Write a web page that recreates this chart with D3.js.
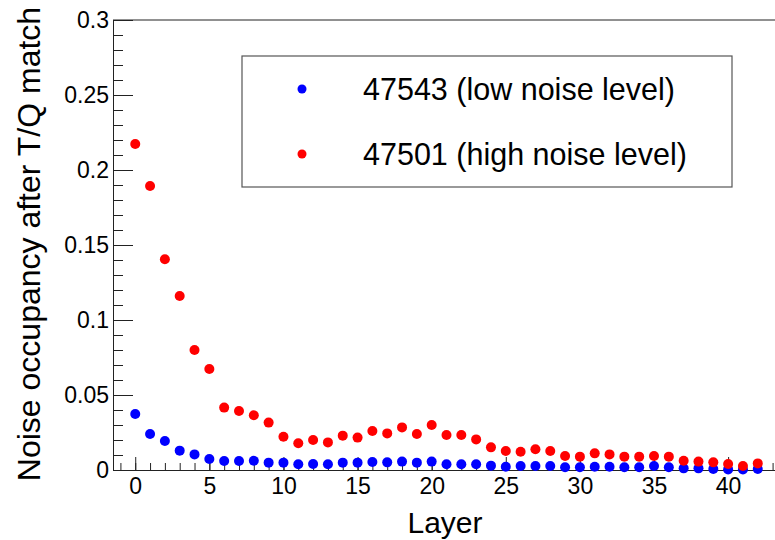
<!DOCTYPE html>
<html>
<head>
<meta charset="utf-8">
<script src="https://cdn.jsdelivr.net/npm/d3@7"></script>
<style>
    body { margin: 0; background: #fff; }
    svg { font-family: "Liberation Sans", Arial, Helvetica, sans-serif; }
    .axis path, .axis line { stroke: #222; }
</style>
</head>
<body>
<div id="chart"></div>
<script>
// layer index 0..42
const layers = d3.range(0, 43);

// run 47543 (low noise level)
const lowNoise = [0.0373, 0.024, 0.0193, 0.0129, 0.0104, 0.0073, 0.006, 0.006, 0.0062, 0.0049,
    0.0049, 0.0038, 0.004, 0.0038, 0.0049, 0.0049, 0.0053, 0.0051, 0.0056, 0.0049,
    0.0056, 0.0038, 0.0038, 0.0038, 0.0029, 0.0022, 0.0027, 0.0027, 0.0027, 0.0018,
    0.0018, 0.0022, 0.0022, 0.0018, 0.0018, 0.0027, 0.0018, 0.0011, 0.0011, 0.0007,
    0.0004, 0.0003, 0.0007];

// run 47501 (high noise level)
const highNoise = [0.2173, 0.1893, 0.1405, 0.116, 0.080, 0.0673, 0.0416, 0.0393, 0.0365, 0.0316,
    0.0222, 0.0178, 0.020, 0.0184, 0.0229, 0.0216, 0.026, 0.0244, 0.0284, 0.024,
    0.030, 0.0233, 0.0233, 0.0204, 0.0151, 0.0127, 0.0122, 0.0138, 0.0127, 0.0093,
    0.0089, 0.0111, 0.0104, 0.0089, 0.0089, 0.0093, 0.0089, 0.0062, 0.0056, 0.0051,
    0.004, 0.0027, 0.0044];

const xMajorTicks = [0, 5, 10, 15, 20, 25, 30, 35, 40];
const yMajorTicks = [0, 0.05, 0.1, 0.15, 0.2, 0.25, 0.3];

const series = [
    {name: "47543 (low noise level)", color: "#0000ff", values: lowNoise},
    {name: "47501 (high noise level)", color: "#ff0000", values: highNoise}
];

const width = 775, height = 540;
const margin = {top: 20, left: 113, bottom: 70};

const svg = d3.select("#chart").append("svg")
    .attr("width", width)
    .attr("height", height);

const x = d3.scaleLinear()
    .domain([-1.5, 43.5])
    .range([margin.left, 780]);

const y = d3.scaleLinear()
    .domain([0, 0.3])
    .range([height - margin.bottom, margin.top]);

// frame lines (top edge, right edge falls outside the picture)
svg.append("line")
    .attr("x1", margin.left).attr("x2", width)
    .attr("y1", y(0.3)).attr("y2", y(0.3))
    .attr("stroke", "#222");

// x axis: minor ticks every layer, major every 5
svg.append("g")
    .attr("class", "axis")
    .attr("transform", `translate(0,${y(0)})`)
    .call(d3.axisBottom(x).tickValues(d3.range(-1, 44)).tickSize(-7).tickFormat(""))
    .call(g => g.select(".domain").remove());

svg.append("g")
    .attr("class", "axis x-axis")
    .attr("transform", `translate(0,${y(0)})`)
    .call(d3.axisBottom(x).tickValues(xMajorTicks).tickSize(-13).tickSizeOuter(0).tickPadding(8))
    .call(g => g.selectAll("text").attr("font-size", 23).attr("fill", "#000"));

// y axis
svg.append("g")
    .attr("class", "axis")
    .attr("transform", `translate(${margin.left},0)`)
    .call(d3.axisLeft(y).tickValues(d3.range(0, 31).map(d => d / 100)).tickSize(-10).tickFormat(""))
    .call(g => g.select(".domain").remove());

svg.append("g")
    .attr("class", "axis y-axis")
    .attr("transform", `translate(${margin.left},0)`)
    .call(d3.axisLeft(y).tickValues(yMajorTicks).tickSize(-20).tickSizeOuter(0).tickPadding(4)
        .tickFormat(d => String(+d.toFixed(2))))
    .call(g => g.selectAll("text").attr("font-size", 23).attr("fill", "#000"));

// axis titles
svg.append("text")
    .attr("x", 445)
    .attr("y", 533)
    .attr("text-anchor", "middle")
    .attr("font-size", 30)
    .text("Layer");

svg.append("text")
    .attr("transform", "translate(40,244) rotate(-90)")
    .attr("text-anchor", "middle")
    .attr("font-size", 32)
    .text("Noise occupancy after T/Q match");

// markers (blue first, red on top)
series.forEach(s => {
    svg.append("g")
        .selectAll("circle")
        .data(s.values)
        .enter().append("circle")
        .attr("cx", (d, i) => x(layers[i]))
        .attr("cy", d => y(d))
        .attr("r", 5)
        .attr("fill", s.color);
});

// legend
const legend = svg.append("g");
legend.append("rect")
    .attr("x", 242).attr("y", 56)
    .attr("width", 490).attr("height", 131)
    .attr("fill", "#fff")
    .attr("stroke", "#555")
    .attr("stroke-width", 1.2);

const entry = legend.selectAll("g.entry")
    .data(series)
    .enter().append("g")
    .attr("class", "entry")
    .attr("transform", (d, i) => `translate(0,${89 + i * 65})`);

entry.append("circle")
    .attr("cx", 302)
    .attr("cy", 0)
    .attr("r", 4.5)
    .attr("fill", d => d.color);

entry.append("text")
    .attr("x", 363)
    .attr("y", 0)
    .attr("dy", "0.35em")
    .attr("font-size", 30.5)
    .text(d => d.name);
</script>
</body>
</html>
